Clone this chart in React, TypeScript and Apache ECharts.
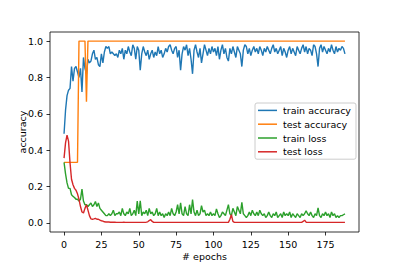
import React, { useEffect, useRef } from "react";
import * as echarts from "echarts";

const epochs: number[] = [];
for (let i = 0; i <= 188; i++) epochs.push(i);

const xTicks = [0, 25, 50, 75, 100, 125, 150, 175];
const yTicks = [0, 0.2, 0.4, 0.6, 0.8, 1.0];
const seriesNames = ["train accuracy", "test accuracy", "train loss", "test loss"];
const seriesColors = ["#1f77b4", "#ff7f0e", "#2ca02c", "#d62728"];

const trainAccuracy = [
  0.49, 0.62, 0.70, 0.73, 0.74, 0.86, 0.78, 0.85, 0.86, 0.83,
  0.80, 0.85, 0.72, 0.91, 0.85, 0.82, 0.90, 0.88, 0.89, 0.93,
  0.95, 0.90, 0.91, 0.87, 0.86, 0.93, 0.88, 0.94, 0.97, 0.96,
  0.97, 0.93, 0.94, 0.93, 0.92, 0.93, 0.91, 0.95, 0.93, 0.96,
  0.90, 0.95, 0.93, 0.97, 0.94, 0.92, 0.98, 0.96, 0.90, 0.97,
  0.95, 0.84, 0.93, 0.97, 0.94, 0.92, 0.95, 0.90, 0.93, 0.95,
  0.91, 0.94, 0.92, 0.97, 0.93, 0.95, 0.91, 0.93, 0.96, 0.94,
  0.97, 0.98, 0.95, 0.93, 0.96, 0.97, 0.91, 0.95, 0.84, 0.93,
  0.97, 0.95, 0.98, 0.92, 0.96, 0.90, 0.82, 0.95, 0.98, 0.94,
  0.91, 0.96, 0.88, 0.93, 0.98, 0.95, 0.92, 0.96, 0.93, 0.97,
  0.94, 0.96, 0.92, 0.97, 0.90, 0.95, 0.98, 0.93, 0.96, 0.91,
  0.89, 0.96, 0.93, 0.97, 0.94, 0.91, 0.97, 0.95, 0.93, 0.86,
  0.95, 0.98, 0.97, 0.93, 0.96, 0.92, 0.95, 0.97, 0.94, 0.96,
  0.93, 0.97, 0.95, 0.92, 0.96, 0.94, 0.97, 0.95, 0.93, 0.96,
  0.98, 0.94, 0.96, 0.93, 0.95, 0.97, 0.92, 0.96, 0.94, 0.91,
  0.95, 0.97, 0.93, 0.96, 0.94, 0.92, 0.97, 0.95, 0.93, 0.96,
  0.98, 0.94, 0.97, 0.93, 0.96, 0.95, 0.92, 0.98, 0.97, 0.93,
  0.86, 0.96, 0.98, 0.94, 0.97, 0.95, 0.93, 0.96, 0.94, 0.98,
  0.95, 0.93, 0.97, 0.94, 0.96, 0.95, 0.97, 0.96, 0.93,
];

const testAccuracy = [
  0.333, 0.333, 0.333, 0.333, 0.333, 0.333, 0.333, 0.333, 0.333, 0.333,
  1, 1, 1, 1, 1, 0.667, 1, 1, 1, 1,
  1, 1, 1, 1, 1, 1, 1, 1, 1, 1,
  1, 1, 1, 1, 1, 1, 1, 1, 1, 1,
  1, 1, 1, 1, 1, 1, 1, 1, 1, 1,
  1, 1, 1, 1, 1, 1, 1, 1, 1, 1,
  1, 1, 1, 1, 1, 1, 1, 1, 1, 1,
  1, 1, 1, 1, 1, 1, 1, 1, 1, 1,
  1, 1, 1, 1, 1, 1, 1, 1, 1, 1,
  1, 1, 1, 1, 1, 1, 1, 1, 1, 1,
  1, 1, 1, 1, 1, 1, 1, 1, 1, 1,
  1, 1, 1, 1, 1, 1, 1, 1, 1, 1,
  1, 1, 1, 1, 1, 1, 1, 1, 1, 1,
  1, 1, 1, 1, 1, 1, 1, 1, 1, 1,
  1, 1, 1, 1, 1, 1, 1, 1, 1, 1,
  1, 1, 1, 1, 1, 1, 1, 1, 1, 1,
  1, 1, 1, 1, 1, 1, 1, 1, 1, 1,
  1, 1, 1, 1, 1, 1, 1, 1, 1, 1,
  1, 1, 1, 1, 1, 1, 1, 1, 1,
];

const trainLoss = [
  0.333, 0.27, 0.22, 0.19, 0.19, 0.155, 0.146, 0.14, 0.13, 0.13,
  0.12, 0.13, 0.186, 0.12, 0.10, 0.10, 0.09, 0.10, 0.11, 0.09,
  0.10, 0.118, 0.09, 0.11, 0.08, 0.07, 0.06, 0.05, 0.04, 0.04,
  0.05, 0.04, 0.05, 0.07, 0.04, 0.05, 0.05, 0.06, 0.04, 0.08,
  0.05, 0.04, 0.06, 0.05, 0.08, 0.04, 0.05, 0.07, 0.04, 0.12,
  0.05, 0.122, 0.04, 0.06, 0.05, 0.07, 0.04, 0.08, 0.05, 0.06,
  0.04, 0.05, 0.08, 0.04, 0.06, 0.04, 0.05, 0.03, 0.05, 0.04,
  0.06, 0.04, 0.08, 0.05, 0.04, 0.06, 0.10, 0.05, 0.11, 0.05,
  0.04, 0.09, 0.05, 0.04, 0.10, 0.05, 0.128, 0.06, 0.04, 0.07,
  0.04, 0.05, 0.095, 0.06, 0.07, 0.04, 0.05, 0.04, 0.06, 0.04,
  0.05, 0.04, 0.077, 0.05, 0.03, 0.04, 0.06, 0.05, 0.04, 0.07,
  0.10, 0.05, 0.04, 0.08, 0.06, 0.04, 0.09, 0.07, 0.05, 0.113,
  0.05, 0.04, 0.03, 0.04, 0.06, 0.04, 0.07, 0.05, 0.04, 0.06,
  0.04, 0.07, 0.05, 0.04, 0.05, 0.03, 0.04, 0.06, 0.04, 0.03,
  0.05, 0.04, 0.06, 0.03, 0.04, 0.05, 0.03, 0.06, 0.04, 0.05,
  0.04, 0.06, 0.03, 0.05, 0.04, 0.03, 0.05, 0.04, 0.03, 0.05,
  0.04, 0.05, 0.067, 0.05, 0.04, 0.06, 0.04, 0.03, 0.05, 0.04,
  0.082, 0.04, 0.03, 0.05, 0.04, 0.06, 0.04, 0.05, 0.03, 0.06,
  0.04, 0.05, 0.03, 0.04, 0.03, 0.04, 0.04, 0.045, 0.05,
];

const testLoss = [
  0.356, 0.44, 0.483, 0.45, 0.33, 0.24, 0.21, 0.19, 0.18, 0.16,
  0.13, 0.09, 0.06, 0.055, 0.08, 0.10, 0.07, 0.04, 0.022, 0.02,
  0.022, 0.025, 0.02, 0.02, 0.015, 0.012, 0.01, 0.006, 0.005, 0.005,
  0.005, 0.004, 0.004, 0.004, 0.004, 0.003, 0.003, 0.003, 0.003, 0.003,
  0.004, 0.003, 0.003, 0.003, 0.003, 0.003, 0.003, 0.003, 0.003, 0.003,
  0.003, 0.003, 0.003, 0.003, 0.003, 0.004, 0.006, 0.013, 0.018, 0.008,
  0.003, 0.003, 0.003, 0.003, 0.003, 0.003, 0.003, 0.003, 0.003, 0.003,
  0.003, 0.003, 0.003, 0.003, 0.003, 0.003, 0.003, 0.003, 0.003, 0.003,
  0.003, 0.003, 0.003, 0.003, 0.003, 0.003, 0.003, 0.003, 0.003, 0.003,
  0.003, 0.003, 0.003, 0.003, 0.003, 0.003, 0.003, 0.003, 0.003, 0.003,
  0.003, 0.003, 0.003, 0.003, 0.003, 0.003, 0.003, 0.003, 0.003, 0.003,
  0.003, 0.02, 0.045, 0.008, 0.003, 0.003, 0.003, 0.003, 0.003, 0.003,
  0.003, 0.003, 0.003, 0.003, 0.003, 0.003, 0.003, 0.003, 0.003, 0.003,
  0.003, 0.003, 0.003, 0.003, 0.003, 0.003, 0.003, 0.003, 0.003, 0.003,
  0.003, 0.003, 0.003, 0.003, 0.003, 0.003, 0.003, 0.003, 0.003, 0.003,
  0.003, 0.003, 0.003, 0.003, 0.003, 0.003, 0.003, 0.003, 0.003, 0.003,
  0.008, 0.015, 0.004, 0.003, 0.003, 0.003, 0.003, 0.003, 0.003, 0.003,
  0.003, 0.003, 0.003, 0.003, 0.003, 0.003, 0.003, 0.003, 0.003, 0.003,
  0.003, 0.003, 0.003, 0.003, 0.003, 0.003, 0.003, 0.003, 0.003,
];

const allSeries = [trainAccuracy, testAccuracy, trainLoss, testLoss];

const FONT = "DejaVu Sans";

export default function App() {
  const ref = useRef<HTMLDivElement>(null);
  useEffect(() => {
    if (!ref.current) return;
    const chart = echarts.init(ref.current, undefined, { renderer: "svg" });
    chart.setOption({
      animation: false,
      backgroundColor: "#ffffff",
      textStyle: { fontFamily: FONT },
      grid: {
        left: 50,
        top: 32,
        width: 309,
        height: 200,
        show: true,
        borderColor: "#000000",
        borderWidth: 0.8,
        backgroundColor: "transparent",
      },
      legend: {
        orient: "vertical",
        left: 255,
        top: 103,
        padding: [1.5, 5, 1.5, 3],
        backgroundColor: "rgba(255,255,255,0.8)",
        borderColor: "#cccccc",
        borderWidth: 1,
        borderRadius: 2,
        itemWidth: 19,
        itemHeight: 1.5,
        itemGap: 2,
        icon: "rect",
        textStyle: { fontFamily: FONT, fontSize: 9.5, color: "#000", lineHeight: 11.8, padding: [0, 0, 0, 1] },
        data: seriesNames,
      },
      xAxis: {
        type: "value",
        min: -9.4,
        max: 197.4,
        name: "# epochs",
        nameLocation: "middle",
        nameGap: 19,
        nameMoveOverlap: false,
        nameTextStyle: { fontFamily: FONT, fontSize: 9.5, color: "#000" },
        splitLine: { show: false },
        axisLine: { show: false, onZero: false },
        axisTick: { show: true, inside: false, length: 3.5, lineStyle: { color: "#000", width: 0.8 }, customValues: xTicks },
        axisLabel: { fontFamily: FONT, fontSize: 9.5, color: "#000", margin: 7, customValues: xTicks, formatter: (v: number) => String(v) },
      },
      yAxis: {
        type: "value",
        min: -0.05,
        max: 1.05,
        name: "accuracy",
        nameLocation: "middle",
        nameGap: 23,
        nameMoveOverlap: false,
        nameTextStyle: { fontFamily: FONT, fontSize: 9.5, color: "#000" },
        splitLine: { show: false },
        axisLine: { show: false, onZero: false },
        axisTick: { show: true, inside: false, length: 3.5, lineStyle: { color: "#000", width: 0.8 }, customValues: yTicks },
        axisLabel: { fontFamily: FONT, fontSize: 9.5, color: "#000", margin: 7, customValues: yTicks, formatter: (v: number) => v.toFixed(1) },
      },
      series: seriesNames.map((name, i) => ({
        name,
        type: "line",
        data: epochs.map((e, j) => [e, allSeries[i][j]]),
        showSymbol: false,
        symbol: "none",
        lineStyle: { color: seriesColors[i], width: 1.4 },
        itemStyle: { color: seriesColors[i] },
        z: 2 + i,
      })),
    });
    return () => chart.dispose();
  }, []);
  return <div ref={ref} style={{ position: "fixed", left: 0, top: 0, width: 399, height: 266 }} />;
}
